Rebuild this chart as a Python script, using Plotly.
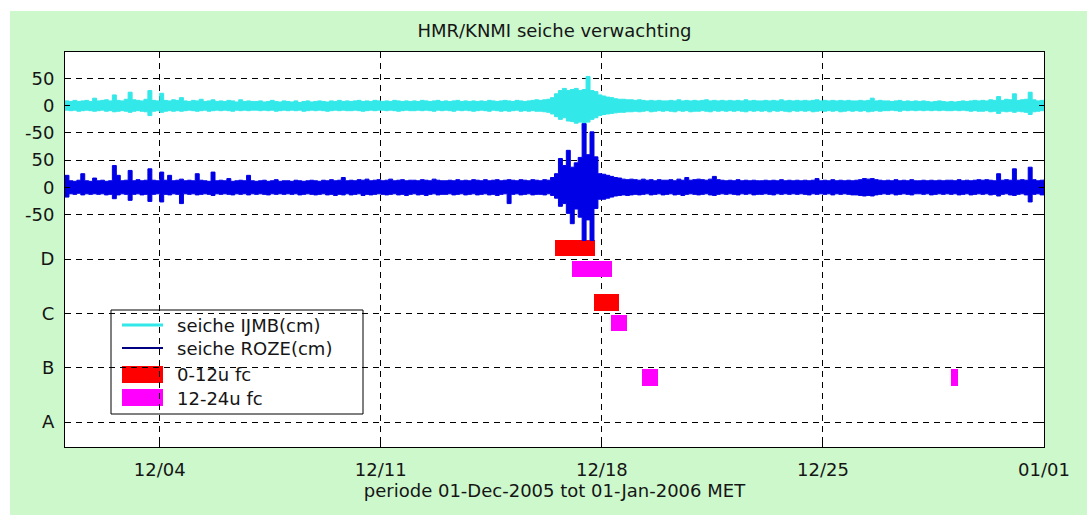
import plotly.graph_objects as go
import pandas as pd

# ---------------- data ----------------
title_text = "HMR/KNMI seiche verwachting"
xlabel_text = "periode 01-Dec-2005 tot 01-Jan-2006 MET"
series_names = ["seiche IJMB(cm)", "seiche ROZE(cm)"]
fc_names = ["0-12u fc", "12-24u fc"]

# 3-hourly envelope (max / min, cm), 01-Dec-2005 00:00 .. 01-Jan-2006 00:00
t_start = "2005-12-01 00:00"
t_step = "3h"

ijmb_upper = [
    9, 8, 10, 8, 9, 10, 8, 14,
    9, 10, 11, 9, 20, 10, 9, 12,
    25, 11, 10, 9, 12, 28, 10, 9,
    23, 10, 9, 11, 10, 15, 9, 8,
    10, 9, 12, 8, 9, 11, 8, 9,
    8, 10, 9, 7, 11, 8, 9, 8,
    8, 9, 7, 8, 10, 8, 7, 9,
    8, 7, 9, 6, 8, 9, 7, 8,
    9, 8, 7, 9, 8, 10, 8, 9,
    8, 9, 10, 8, 9, 8, 10, 9,
    8, 9, 8, 10, 9, 8, 9, 8,
    9, 8, 10, 9, 8, 9, 10, 8,
    9, 8, 9, 10, 8, 9, 8, 9,
    8, 9, 8, 10, 9, 8, 9, 10,
    9, 8, 10, 9, 8, 9, 10, 11,
    10, 11, 12, 15, 22, 28, 32, 28,
    30, 32, 28, 30, 54, 28, 26, 20,
    18, 16, 15, 13, 12, 12, 11, 11,
    10, 11, 10, 9, 10, 9, 10, 9,
    9, 10, 9, 11, 9, 10, 9, 10,
    9, 10, 11, 9, 10, 9, 10, 9,
    10, 9, 10, 9, 11, 9, 10, 9,
    9, 10, 9, 10, 9, 11, 9, 10,
    9, 10, 9, 10, 9, 10, 11, 9,
    10, 9, 10, 9, 10, 9, 10, 9,
    9, 10, 9, 10, 14, 9, 10, 9,
    9, 8, 9, 10, 8, 9, 8, 9,
    8, 9, 8, 7, 8, 9, 8, 7,
    8, 7, 8, 9, 8, 9, 10, 9,
    10, 9, 11, 10, 17, 10, 12, 11,
    22, 10, 11, 12, 25, 11, 9, 10,
    9,
]
ijmb_lower = [
    -8, -9, -8, -10, -9, -8, -9, -10,
    -9, -8, -10, -9, -11, -10, -9, -10,
    -12, -10, -9, -10, -11, -18, -10, -9,
    -12, -10, -9, -10, -9, -10, -9, -8,
    -9, -10, -9, -8, -10, -9, -8, -9,
    -8, -9, -10, -8, -9, -8, -9, -8,
    -8, -9, -8, -9, -8, -10, -9, -8,
    -9, -8, -9, -8, -10, -9, -8, -9,
    -8, -9, -10, -9, -8, -9, -8, -9,
    -9, -8, -9, -10, -9, -8, -9, -8,
    -8, -9, -8, -9, -10, -9, -8, -9,
    -9, -8, -9, -8, -9, -10, -8, -9,
    -8, -9, -10, -8, -9, -8, -9, -10,
    -9, -8, -9, -10, -8, -9, -10, -9,
    -10, -9, -8, -10, -9, -10, -9, -10,
    -10, -11, -12, -15, -20, -25, -22, -28,
    -29, -32, -30, -44, -30, -25, -22, -18,
    -16, -15, -14, -13, -12, -12, -11, -11,
    -10, -11, -10, -9, -11, -10, -9, -10,
    -9, -10, -11, -9, -10, -9, -11, -10,
    -10, -9, -10, -11, -9, -10, -9, -10,
    -9, -10, -9, -10, -11, -9, -10, -9,
    -10, -9, -11, -9, -10, -9, -10, -11,
    -9, -10, -9, -10, -9, -11, -10, -9,
    -10, -9, -10, -9, -11, -10, -9, -10,
    -9, -10, -9, -11, -10, -9, -10, -9,
    -9, -8, -9, -10, -8, -9, -8, -9,
    -8, -9, -8, -9, -8, -9, -8, -9,
    -9, -8, -9, -8, -9, -10, -9, -10,
    -10, -9, -11, -10, -14, -10, -11, -10,
    -12, -10, -11, -12, -16, -11, -10, -9,
    -9,
]
roze_upper = [
    22, 12, 11, 13, 25, 12, 11, 17,
    12, 13, 11, 12, 40, 22, 12, 13,
    31, 12, 14, 12, 13, 34, 13, 12,
    28, 13, 22, 12, 13, 15, 12, 13,
    12, 25, 13, 12, 11, 28, 12, 13,
    12, 16, 11, 12, 13, 12, 22, 12,
    11, 12, 13, 11, 12, 14, 11, 12,
    12, 11, 13, 12, 11, 12, 13, 12,
    11, 13, 12, 14, 12, 13, 18, 12,
    13, 12, 14, 13, 15, 12, 13, 14,
    12, 13, 15, 12, 13, 14, 12, 13,
    13, 12, 14, 13, 12, 15, 13, 12,
    12, 13, 12, 14, 12, 13, 12, 14,
    13, 12, 14, 12, 13, 14, 12, 13,
    14, 13, 12, 14, 13, 12, 14, 13,
    12, 14, 13, 18, 25, 53, 40, 68,
    37, 45, 55, 117, 60, 102, 56, 25,
    24, 22, 20, 18, 17, 15, 14, 15,
    14, 13, 15, 13, 14, 12, 14, 13,
    13, 14, 12, 15, 13, 18, 13, 14,
    15, 14, 13, 15, 20, 14, 13, 12,
    13, 12, 14, 12, 13, 12, 13, 12,
    12, 13, 12, 13, 12, 14, 12, 13,
    12, 13, 12, 13, 12, 13, 16, 12,
    13, 12, 14, 12, 13, 12, 13, 12,
    13, 14, 16, 15, 16, 14, 13, 12,
    13, 12, 14, 12, 13, 12, 14, 12,
    12, 13, 12, 13, 12, 13, 12, 13,
    13, 12, 14, 12, 13, 12, 13, 14,
    13, 14, 13, 12, 25, 13, 14, 13,
    34, 13, 14, 13, 37, 14, 12, 13,
    14,
]
roze_lower = [
    -18, -12, -13, -11, -14, -12, -13, -12,
    -13, -12, -14, -13, -21, -14, -12, -13,
    -24, -13, -12, -14, -13, -26, -13, -12,
    -27, -13, -14, -12, -13, -30, -12, -13,
    -12, -14, -13, -12, -13, -15, -12, -13,
    -12, -13, -14, -12, -13, -12, -14, -12,
    -13, -12, -13, -14, -12, -13, -12, -13,
    -12, -13, -12, -14, -13, -12, -13, -14,
    -13, -12, -14, -13, -15, -13, -14, -12,
    -14, -13, -12, -15, -13, -14, -13, -12,
    -13, -14, -13, -12, -14, -13, -15, -13,
    -12, -14, -13, -15, -13, -12, -14, -13,
    -13, -12, -14, -13, -12, -14, -13, -12,
    -14, -13, -12, -14, -13, -15, -13, -12,
    -30, -13, -12, -14, -13, -12, -14, -13,
    -13, -14, -12, -15, -20, -35, -30, -48,
    -67, -40, -55, -98, -60, -98, -39, -22,
    -22, -20, -18, -16, -15, -14, -15, -14,
    -13, -14, -13, -12, -14, -13, -12, -14,
    -13, -12, -14, -13, -15, -13, -12, -13,
    -14, -13, -12, -14, -15, -13, -12, -13,
    -12, -13, -14, -12, -13, -12, -14, -13,
    -13, -12, -13, -14, -12, -13, -12, -13,
    -12, -13, -12, -13, -14, -12, -13, -12,
    -13, -12, -14, -12, -13, -12, -13, -14,
    -14, -15, -16, -15, -16, -14, -13, -12,
    -13, -12, -14, -13, -12, -13, -14, -12,
    -12, -13, -12, -14, -13, -12, -13, -12,
    -13, -12, -14, -13, -12, -14, -13, -12,
    -13, -12, -14, -13, -16, -13, -12, -14,
    -15, -13, -12, -14, -27, -13, -12, -14,
    -13,
]

# forecast blocks
fc_class = ["0-12u fc", "12-24u fc", "0-12u fc", "12-24u fc", "12-24u fc", "12-24u fc"]
fc_level = ["D", "D", "C", "C", "B", "B"]
fc_start = ["2005-12-16 12:00", "2005-12-17 01:00", "2005-12-17 18:00",
            "2005-12-18 06:45", "2005-12-19 06:15", "2005-12-29 01:00"]
fc_end = ["2005-12-17 18:30", "2005-12-18 07:30", "2005-12-18 12:45",
          "2005-12-18 18:45", "2005-12-19 19:00", "2005-12-29 07:00"]

# axis labels
x_tickvals = ["2005-12-04", "2005-12-11", "2005-12-18", "2005-12-25", "2006-01-01"]
x_ticktext = ["12/04", "12/11", "12/18", "12/25", "01/01"]
level_names = ["A", "B", "C", "D"]
level_values = [0, 100, 200, 300]
cm_ticks = [-50, 0, 50]
roze_offset = 432
ijmb_offset = 582

# ---------------- styling ----------------
FONT = "DejaVu Sans"
TXT = "#151515"
C_IJMB = "#33e8e8"
C_ROZE = "#0000e6"
C_ROZE_LEG = "#000080"
C_FC = {"0-12u fc": "#ff0000", "12-24u fc": "#ff00ff"}
FC_OFFSET = {"0-12u fc": 20, "12-24u fc": -18}
BG = "#ccf8cc"

t = pd.date_range(t_start, periods=len(ijmb_upper), freq=t_step)
fig = go.Figure()


def band(up, lo, off, color, name):
    fig.add_trace(go.Scatter(x=t, y=[v + off for v in lo], mode="lines",
                             line=dict(color=color, width=1, shape="hv"),
                             name=name, showlegend=False, hoverinfo="skip"))
    fig.add_trace(go.Scatter(x=t, y=[v + off for v in up], mode="lines",
                             line=dict(color=color, width=1, shape="hv"),
                             fill="tonexty", fillcolor=color,
                             name=name, showlegend=False, hoverinfo="skip"))


band(ijmb_upper, ijmb_lower, ijmb_offset, C_IJMB, series_names[0])
band(roze_upper, roze_lower, roze_offset, C_ROZE, series_names[1])

lev = dict(zip(level_names, level_values))
for cls in fc_names:
    idx = [i for i, c in enumerate(fc_class) if c == cls]
    starts = [fc_start[i] for i in idx]
    durs = [(pd.Timestamp(fc_end[i]) - pd.Timestamp(fc_start[i])).total_seconds() * 1000 for i in idx]
    ys = [lev[fc_level[i]] + FC_OFFSET[cls] for i in idx]
    fig.add_trace(go.Bar(orientation="h", base=starts, x=durs, y=ys, width=30,
                         marker=dict(color=C_FC[cls], line=dict(width=0)),
                         name=cls, showlegend=False))

ytickvals = level_values + [roze_offset + v for v in cm_ticks] + [ijmb_offset + v for v in cm_ticks]
yticktext = level_names + [str(v) for v in cm_ticks] * 2

# ---- geometry (pixels) ----
W, H = 1087, 515
L, R, T, B = 65, 1044, 52, 447
pw, ph = R - L, B - T


def px(x):
    return (x - L) / pw


def py(y):
    return (B - y) / ph


shapes = [
    # white strips around the green frame
    dict(type="rect", xref="paper", yref="paper", x0=px(0), x1=px(10), y0=py(H), y1=py(0),
         fillcolor="white", line=dict(width=0), layer="below"),
    dict(type="rect", xref="paper", yref="paper", x0=px(0), x1=px(W), y0=py(11), y1=py(0),
         fillcolor="white", line=dict(width=0), layer="below"),
    # legend box
    dict(type="rect", xref="paper", yref="paper", x0=px(111), x1=px(363), y0=py(414), y1=py(310),
         fillcolor="white", line=dict(color="black", width=1), layer="below"),
    dict(type="line", xref="paper", yref="paper", x0=px(122), x1=px(163), y0=py(325), y1=py(325),
         line=dict(color=C_IJMB, width=3), layer="below"),
    dict(type="line", xref="paper", yref="paper", x0=px(122), x1=px(163), y0=py(348), y1=py(348),
         line=dict(color=C_ROZE_LEG, width=2), layer="below"),
    dict(type="rect", xref="paper", yref="paper", x0=px(122), x1=px(163), y0=py(383), y1=py(366),
         fillcolor=C_FC[fc_names[0]], line=dict(width=0), layer="below"),
    dict(type="rect", xref="paper", yref="paper", x0=px(122), x1=px(163), y0=py(406), y1=py(389),
         fillcolor=C_FC[fc_names[1]], line=dict(width=0), layer="below"),
]

leg_labels = series_names + fc_names
leg_rows = [325, 348, 374, 398]
annotations = [
    dict(xref="paper", yref="paper", x=px(175), y=py(yy), text=lab, showarrow=False,
         xanchor="left", yanchor="middle", font=dict(family=FONT, size=18, color=TXT))
    for lab, yy in zip(leg_labels, leg_rows)
]

fig.update_layout(
    width=W, height=H,
    margin=dict(l=L, r=W - R, t=T, b=H - B, pad=0),
    paper_bgcolor=BG, plot_bgcolor="white",
    barmode="overlay", bargap=0,
    showlegend=False,
    title=dict(text=title_text, x=0.5, xref="paper", xanchor="center",
               y=1 - 31 / H, yref="container", yanchor="middle",
               font=dict(family=FONT, size=18, color=TXT)),
    font=dict(family=FONT, size=18, color=TXT),
    shapes=shapes, annotations=annotations,
    xaxis=dict(type="date", range=["2005-12-01 00:00", "2006-01-01 00:00"],
               tickvals=x_tickvals, ticktext=x_ticktext,
               showgrid=True, gridcolor="black", gridwidth=1, griddash="6px,5px",
               showline=True, linecolor="black", linewidth=1, mirror="ticks",
               ticks="inside", ticklen=5, tickcolor="black", zeroline=False,
               tickfont=dict(family=FONT, size=18, color=TXT), ticklabelstandoff=6,
               title=dict(text=xlabel_text, standoff=4, font=dict(family=FONT, size=18, color=TXT))),
    yaxis=dict(range=[-46, 681], tickvals=ytickvals, ticktext=yticktext,
               showgrid=True, gridcolor="black", gridwidth=1, griddash="6px,5px",
               showline=True, linecolor="black", linewidth=1, mirror="ticks",
               ticks="inside", ticklen=5, tickcolor="black", zeroline=False,
               tickfont=dict(family=FONT, size=18, color=TXT), ticklabelstandoff=6),
)

fig.write_html("out.html")
